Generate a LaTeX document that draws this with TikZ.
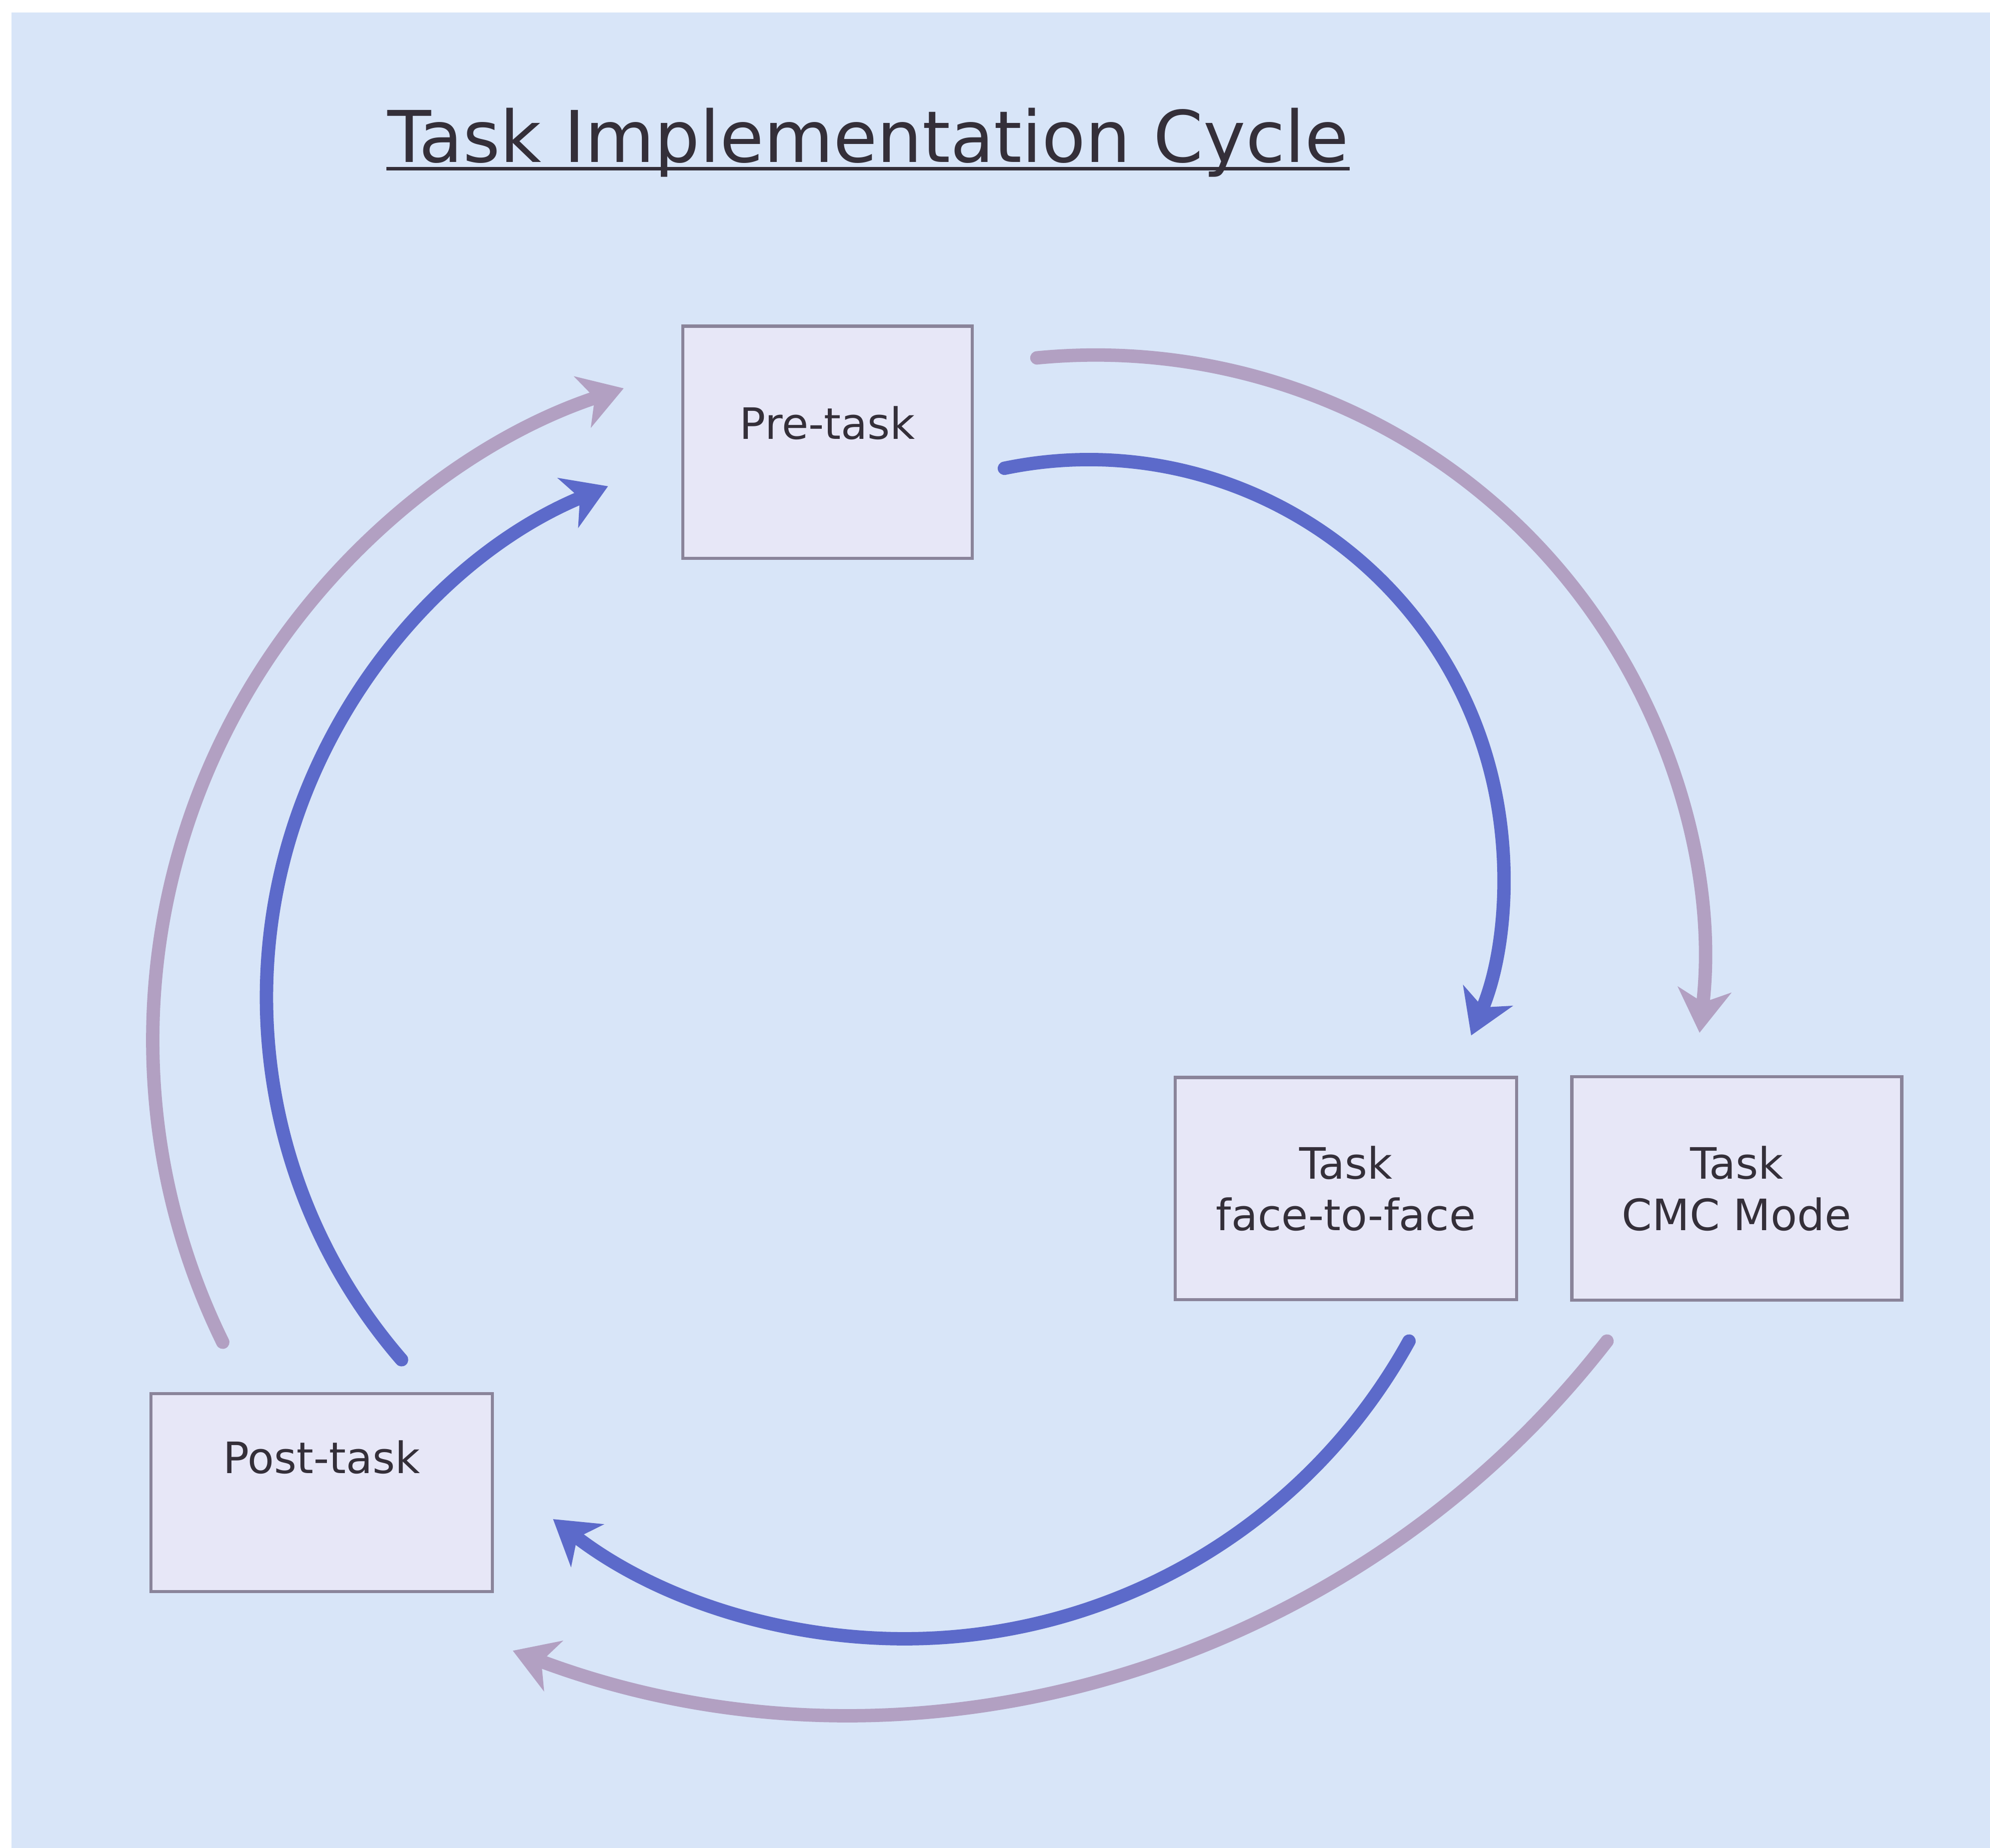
\documentclass[tikz,border=0pt]{standalone}
\usepackage{fontspec}
\setmainfont{DejaVu Sans}
\usetikzlibrary{arrows.meta, positioning}
\definecolor{pageblue}{RGB}{216,229,248}
\definecolor{boxfill}{RGB}{231,231,247}
\definecolor{boxline}{RGB}{138,132,154}
\definecolor{inkgray}{RGB}{52,47,57}
\definecolor{cycblue}{RGB}{92,106,202}
\definecolor{cycmauve}{RGB}{178,160,194}

\begin{document}
\begin{tikzpicture}[font=\fontsize{9.7}{11.6}\selectfont, text=inkgray,
  stage/.style={draw=boxline, fill=boxfill, line width=0.7pt, align=center, inner sep=0pt},
  f2floop/.style={-{Stealth[length=0.34cm, width=0.42cm, inset=0.1cm]}, line width=3pt,
    draw=cycblue, line cap=round},
  cmcloop/.style={f2floop, draw=cycmauve}]

  % Page
  \useasboundingbox (0,0) rectangle (15.68,-14.56);
  \fill[pageblue] (0.09,-0.10) rectangle (15.68,-14.56);

  % Title
  \node[font=\fontsize{16}{19}\selectfont, inner sep=0pt, anchor=base] (title) at (6.84,-1.28)
    {Task Implementation Cycle};
  \draw[inkgray, line width=0.8pt] ([yshift=-0.05cm]title.base west) -- ([yshift=-0.05cm]title.base east);

  % ── Stages ──
  \node[stage, minimum width=2.28cm, minimum height=1.83cm, text height=0.26cm, text depth=0.31cm]
    (pre) at (6.52,-3.485) {Pre-task};
  \node[stage, minimum width=2.69cm, minimum height=1.75cm] (f2f) at (10.605,-9.365) {Task\\face-to-face};
  \node[stage, minimum width=2.60cm, minimum height=1.76cm, right=0.41cm of f2f] (cmc) {Task\\CMC Mode};
  \node[stage, minimum width=2.69cm, minimum height=1.56cm, text height=0.26cm, text depth=0.56cm]
    (post) at (2.535,-11.76) {Post-task};

  % Arc starts
  \coordinate (preO)  at (8.17,-2.82);
  \coordinate (preI)  at (7.914,-3.69);
  \coordinate (cmcO)  at (12.662,-10.567);
  \coordinate (f2fO)  at (11.102,-10.567);
  \coordinate (postO) at (1.755,-10.576);
  \coordinate (postI) at (3.164,-10.714);

  % ── CMC cycle (outer) ──
  \draw[cmcloop] (preO) arc[start angle=95.55, end angle=-6.6, radius=4.79];
  \draw[cmcloop] (cmcO) arc[start angle=-37.8, end angle=-110.6, radius=7.55];
  \draw[cmcloop] (postO) arc[start angle=206.1, end angle=108.3, radius=5.41];

  % ── face-to-face cycle (inner) ──
  \draw[f2floop] (preI) arc[start angle=101.7, end angle=-22.8, radius=3.27];
  \draw[f2floop] (f2fO) arc[start angle=-28.9, end angle=-127.6, radius=4.54];
  \draw[f2floop] (postI) arc[start angle=220.9, end angle=112.5, radius=4.36];

\end{tikzpicture}
\end{document}
